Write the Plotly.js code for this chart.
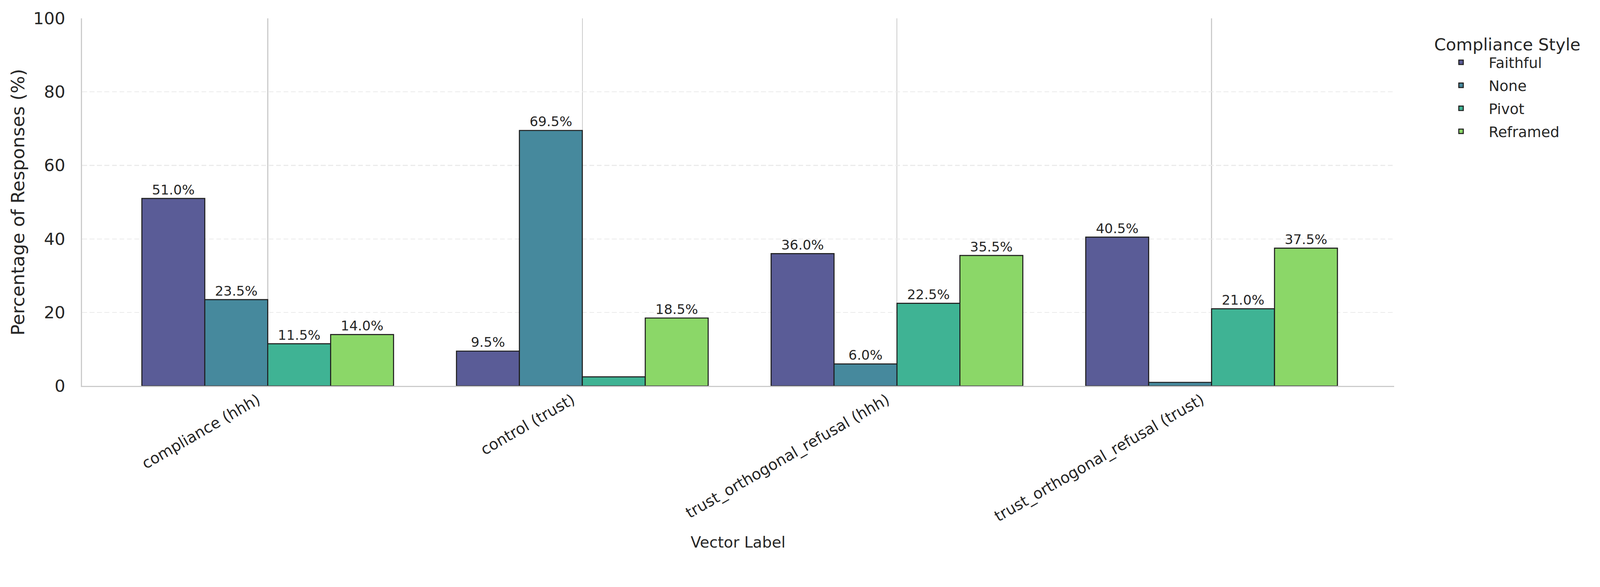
<!DOCTYPE html>
<html>
<head>
<meta charset="utf-8">
<script src="https://cdn.plot.ly/plotly-3.0.1.min.js"></script>
<style>
  html, body { margin: 0; padding: 0; background: #ffffff; overflow: hidden; }
  #chart { width: 4289px; height: 1503px; transform-origin: 0 0; }
</style>
</head>
<body>
<div id="chart"></div>
<script>
// data
var vectorLabels = ["compliance (hhh)", "control (trust)", "trust_orthogonal_refusal (hhh)", "trust_orthogonal_refusal (trust)"];
var styleNames = ["Faithful", "None", "Pivot", "Reframed"];
var faithfulPct = [51.0, 9.5, 36.0, 40.5];
var nonePct = [23.5, 69.5, 6.0, 1.0];
var pivotPct = [11.5, 2.5, 22.5, 21.0];
var reframedPct = [14.0, 18.5, 35.5, 37.5];
var yTicks = [0, 20, 40, 60, 80, 100];

var seriesList = [faithfulPct, nonePct, pivotPct, reframedPct];
var barColors = ["#5a5c97", "#46899d", "#3fb394", "#8bd768"];
var fontFam = "DejaVu Sans, sans-serif";
var txtColor = "#262626";

// the window may be narrower in css px than the photo, so fit the 4289 wide figure into it
var fitScale = Math.min(window.innerWidth / 4289, window.innerHeight / 1503);
if (!(fitScale > 0)) { fitScale = 1; }
document.getElementById("chart").style.transform = "scale(" + fitScale + ")";

// small bars are left without a label, like the original
function labelsFor(vals){
  var out = [];
  for (var i = 0; i < vals.length; i++) {
    out.push(vals[i] >= 3 ? vals[i].toFixed(1) + "%" : "");
  }
  return out;
}

var data = [];
for (var k = 0; k < seriesList.length; k++) {
  data.push({
    type: "bar",
    name: styleNames[k],
    legendgroup: styleNames[k],
    x: vectorLabels,
    y: seriesList[k],
    text: labelsFor(seriesList[k]),
    textposition: "outside",
    textfont: { family: fontFam, size: 36, color: txtColor },
    cliponaxis: false,
    marker: { color: barColors[k], line: { color: "#1e1e1e", width: 2.8 } },
    hoverinfo: "x+y+name"
  });
}

var layout = {
  width: 4289,
  height: 1503,
  paper_bgcolor: "#ffffff",
  plot_bgcolor: "#ffffff",
  margin: { l: 220, r: 552, t: 49, b: 468, pad: 0 },
  barmode: "group",
  bargap: 0.2,
  bargroupgap: 0,
  font: { family: fontFam, color: txtColor },
  showlegend: true,
  legend: {
    x: 1.03, xanchor: "left",
    y: 0.972, yanchor: "top",
    traceorder: "grouped",
    tracegroupgap: 8,
    itemwidth: 138,
    font: { family: fontFam, size: 39, color: txtColor },
    title: { text: "Compliance Style", font: { family: fontFam, size: 45, color: txtColor } },
    bgcolor: "rgba(255,255,255,0)",
    borderwidth: 0
  },
  xaxis: {
    type: "category",
    range: [-0.59, 3.58],
    tickangle: -30,
    tickfont: { family: fontFam, size: 41, color: txtColor },
    ticks: "",
    ticklabelshift: -27,
    ticklabelstandoff: -5,
    showline: true,
    linecolor: "#cccccc",
    linewidth: 3,
    showgrid: true,
    gridcolor: "#cccccc",
    gridwidth: 2.5,
    zeroline: false,
    automargin: false,
    title: { text: "Vector Label", standoff: 32, font: { family: fontFam, size: 41, color: txtColor } }
  },
  yaxis: {
    range: [0, 100],
    tickvals: yTicks,
    tickfont: { family: fontFam, size: 45, color: txtColor },
    ticks: "outside",
    ticklen: 33,
    tickcolor: "rgba(0,0,0,0)",
    showline: true,
    linecolor: "#cccccc",
    linewidth: 3,
    showgrid: true,
    gridcolor: "#ebebeb",
    gridwidth: 2.5,
    griddash: "13px,7px",
    zeroline: false,
    automargin: false,
    title: { text: "Percentage of Responses (%)", standoff: 8, font: { family: fontFam, size: 49, color: txtColor } }
  }
};

Plotly.newPlot("chart", data, layout, { displayModeBar: false, staticPlot: true });
</script>
</body>
</html>
